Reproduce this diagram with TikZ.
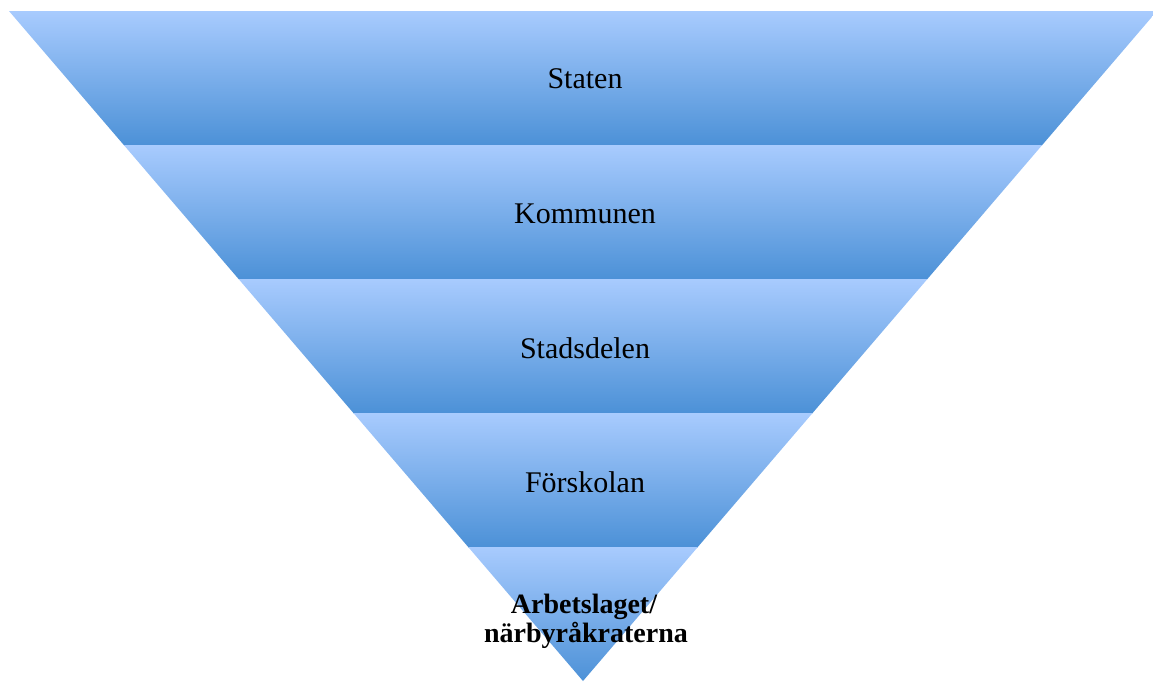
\documentclass[tikz,border=0pt]{standalone}
\usepackage{fontspec}
\setmainfont{Liberation Serif}
\begin{document}
\begin{tikzpicture}[x=1pt,y=-1pt,
  band/.style={top color=bandtop, bottom color=bandbot},
  lab/.style={font=\fontsize{30}{30}\selectfont, text=black, inner sep=0pt},
  boldlab/.style={font=\fontsize{28}{29}\selectfont\bfseries, text=black, inner sep=0pt, anchor=base}]
\definecolor{bandtop}{RGB}{168,203,254}
\definecolor{bandbot}{RGB}{76,145,215}
\useasboundingbox (0,0) rectangle (1153,681);
\begin{scope}
  \clip (9,11) -- (1157,11) -- (583,681) -- cycle;
  \shade[band] (0,11) rectangle (1160,145);
  \shade[band] (0,145) rectangle (1160,279);
  \shade[band] (0,279) rectangle (1160,413);
  \shade[band] (0,413) rectangle (1160,547);
  \shade[band] (0,547) rectangle (1160,682);
\end{scope}
\node[lab] (staten) at (585,79) {Staten};
\node[lab] (kommunen) at (585,214) {Kommunen};
\node[lab] (stadsdelen) at (585,348) {Stadsdelen};
\node[lab] (forskolan) at (585,482) {Förskolan};
\node[boldlab] (arbetslaget) at (584,613) {Arbetslaget/};
\node[boldlab] (narby) at (586,642) {närbyråkraterna};
\end{tikzpicture}
\end{document}
